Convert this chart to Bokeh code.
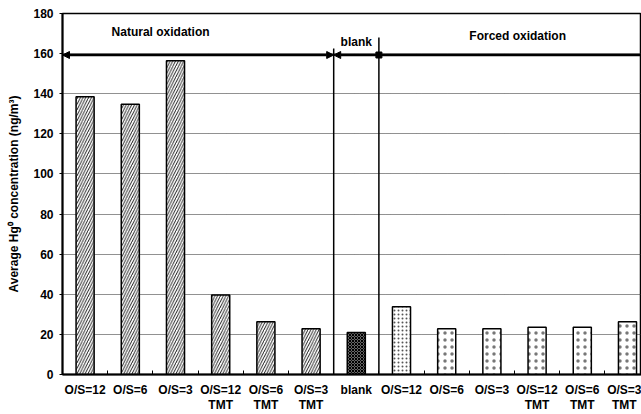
from bokeh.plotting import figure
from bokeh.models import FixedTicker, Arrow, NormalHead, Label, Range1d
from bokeh.embed import file_html
from bokeh.resources import INLINE

# Tick labels for the 13 test conditions (left to right)
tick_labels = ["O/S=12", "O/S=6", "O/S=3", "O/S=12\nTMT", "O/S=6\nTMT", "O/S=3\nTMT",
               "blank",
               "O/S=12", "O/S=6", "O/S=3", "O/S=12\nTMT", "O/S=6\nTMT", "O/S=3\nTMT"]

# Average Hg0 concentration (ng/m3)
natural_vals = [138.5, 134.7, 156.5, 39.6, 26.3, 22.8]
blank_vals = [21.0]
forced_vals = [33.8, 22.8, 22.8, 23.6, 23.6, 26.3]

# Group annotations
group_names = ["Natural oxidation", "blank", "Forced oxidation"]
group_level = 159.3
y_ticks = list(range(0, 181, 20))

FONT = "Liberation Sans"

n_nat = len(natural_vals)
n_blank = len(blank_vals)
n_all = len(tick_labels)
x_nat = list(range(n_nat))
x_blank = [n_nat + i for i in range(n_blank)]
x_forced = [n_nat + n_blank + i for i in range(len(forced_vals))]

x_end = n_all - 0.69
p = figure(width=641, height=414, output_backend="svg", toolbar_location=None,
           x_range=Range1d(-0.5, x_end), y_range=Range1d(0, 180),
           min_border_left=62, min_border_right=0, min_border_top=13, min_border_bottom=38)

p.outline_line_color = "black"
p.outline_line_width = 1.5
p.background_fill_color = "white"
p.border_fill_color = "white"

# grid
p.xgrid.grid_line_color = None
p.ygrid.grid_line_color = "#222222"
p.ygrid.grid_line_dash = "1 1"
p.ygrid.grid_line_width = 1
p.ygrid.ticker = FixedTicker(ticks=y_ticks)

# axes
p.xaxis.ticker = FixedTicker(ticks=list(range(n_all)),
                             minor_ticks=[i + 0.5 for i in range(n_all - 1)])
p.xaxis.major_label_overrides = {i: lab for i, lab in enumerate(tick_labels)}
p.xaxis.major_tick_in = 0
p.xaxis.major_tick_out = 0
p.xaxis.minor_tick_in = 4
p.xaxis.minor_tick_out = 0
p.xaxis.minor_tick_line_color = "black"
p.xaxis.axis_line_width = 2
p.xaxis.major_label_standoff = 8
p.xaxis.major_label_text_line_height = 1.1

p.yaxis.ticker = FixedTicker(ticks=y_ticks)
p.yaxis.major_tick_in = 0
p.yaxis.major_tick_out = 3
p.yaxis.minor_tick_line_color = None
p.yaxis.axis_line_width = 2
p.yaxis.major_label_standoff = 6
p.yaxis.axis_label = "Average Hg\u2070 concentration (ng/m\u00b3)"
p.yaxis.axis_label_standoff = 9

for ax in (p.xaxis, p.yaxis):
    ax.major_label_text_font = FONT
    ax.major_label_text_font_style = "bold"
    ax.major_label_text_font_size = "12px"
    ax.major_label_text_color = "black"
    ax.axis_line_color = "black"
    ax.major_tick_line_color = "black"
    ax.axis_label_text_font = FONT
    ax.axis_label_text_font_style = "bold"
    ax.axis_label_text_font_size = "12px"
    ax.axis_label_text_color = "black"

bw = 0.4
# natural oxidation: diagonal hatch
p.vbar(x=x_nat, top=natural_vals, width=bw, fill_color="white", line_color="black",
       line_width=1.5, hatch_pattern="/", hatch_scale=5.5, hatch_weight=0.9, hatch_color="black")
# blank: dense dark cross pattern
p.vbar(x=x_blank, top=blank_vals, width=bw, fill_color="#666666", line_color="black",
       line_width=1.5, hatch_pattern="x", hatch_scale=3, hatch_weight=1, hatch_color="black")
# forced oxidation: dotted fill (first one denser)
p.vbar(x=x_forced[:1], top=forced_vals[:1], width=bw, fill_color="white", line_color="black",
       line_width=1.5, hatch_pattern=".", hatch_scale=4, hatch_weight=0.5, hatch_color="#555555")
p.vbar(x=x_forced[1:], top=forced_vals[1:], width=bw, fill_color="white", line_color="black",
       line_width=1.5, hatch_pattern=".", hatch_scale=7, hatch_weight=0.3, hatch_color="#555555",
       hatch_alpha=0.8)

# group separators
sep1 = n_nat - 0.5
sep2 = n_nat + n_blank - 0.5
p.segment(x0=[sep1, sep2], y0=[0, 0], x1=[sep1, sep2], y1=[162.5, 168.0],
          line_color="black", line_width=1.5)

# group span arrows
def head():
    return NormalHead(size=7, fill_color="black", line_color="black")

p.add_layout(Arrow(start=head(), end=head(), x_start=-0.5, y_start=group_level,
                   x_end=sep1, y_end=group_level, line_width=2.5, line_color="black"))
p.add_layout(Arrow(start=head(), end=None, x_start=sep1, y_start=group_level,
                   x_end=sep2, y_end=group_level, line_width=2.5, line_color="black"))
p.segment(x0=[sep2], y0=[group_level], x1=[x_end], y1=[group_level],
          line_color="black", line_width=2.5)
p.scatter(x=[sep2], y=[group_level], marker="square", size=6, color="black")

# group titles
name_pos = [(1.67, 171.0), ((sep1 + sep2) / 2, 166.0), (9.57, 169.0)]
for name, (gx, gy) in zip(group_names, name_pos):
    p.add_layout(Label(x=gx, y=gy, text=name, text_align="center", text_baseline="middle",
                       text_font=FONT, text_font_style="bold", text_font_size="12px",
                       text_color="black"))

open("out.html", "w").write(file_html(p, INLINE))
